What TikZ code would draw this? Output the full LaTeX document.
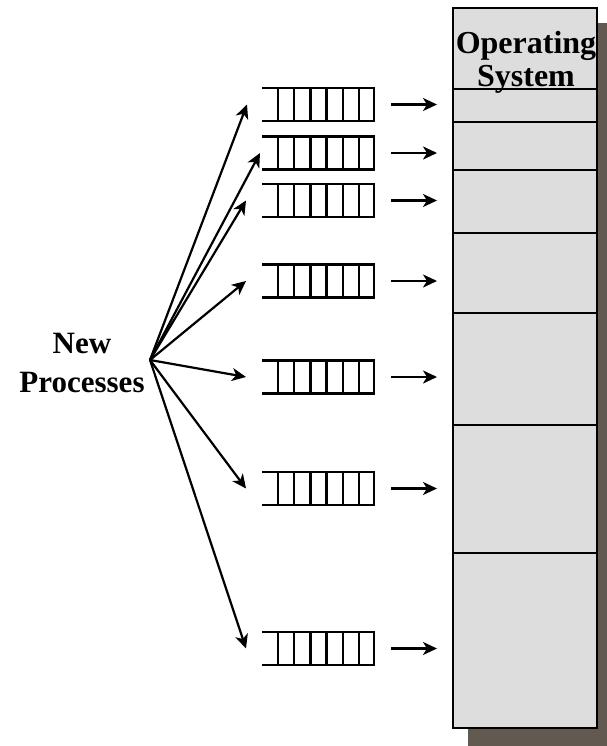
\documentclass[tikz,border=0pt]{standalone}
\usepackage{fontspec}
\setmainfont{Liberation Serif}
\usetikzlibrary{arrows.meta,calc}
\definecolor{osfill}{HTML}{DDDDDD}
\definecolor{shadowcol}{HTML}{625A50}
\begin{document}
\begin{tikzpicture}[x=1pt,y=-1pt,
  arr/.style={line width=2.2pt,-{Stealth[length=14pt,width=13pt,inset=4pt]}},
  qline/.style={line width=2.3pt},
  queue/.style={minimum width=112pt,minimum height=33pt,inner sep=0pt,outer sep=0pt},
  osbox/.style={draw=black,line width=2.5pt,fill=osfill,inner sep=0pt,outer sep=0pt},
  divline/.style={line width=2.3pt},
  bigtext/.style={font=\bfseries\fontsize{32}{33}\selectfont,align=center,inner sep=0pt},
  srctext/.style={font=\bfseries\fontsize{31}{39}\selectfont,align=center,inner sep=0pt}]
\useasboundingbox (0,0) rectangle (606,746);
\fill[shadowcol] (468,23) rectangle (620,760);
\node[osbox,minimum width=144pt,minimum height=720pt,anchor=north west] (os) at (453,8) {};
\foreach \y in {89,122,170,233,313,425,553}
  \draw[divline] (os.west |- 0,\y) -- (os.east |- 0,\y);
\node[bigtext,anchor=base] (ostitle) at (526,87) {Operating\\System};
\coordinate (src) at (150,360);
\node[srctext,anchor=base] (newproc) at (82,392) {New\\Processes};
\foreach \i/\y/\d in {1/104.5/-15,2/153/-2,3/200.5/-16,4/281/-16,5/377/-16,6/488.5/-16,7/648.5/-16} {
  \node[queue] (q\i) at (318,\y) {};
  \draw[qline] (q\i.north west) -- (q\i.north east) -- (q\i.south east) -- (q\i.south west);
  \foreach \k in {0,...,5}
    \draw[qline] ($(q\i.north west)+(16+16.2*\k,0)$) -- ($(q\i.south west)+(16+16.2*\k,0)$);
  \draw[arr] (src) -- ($(q\i.west)+(\d,0)$);
  \draw[arr] ($(q\i.east)+(17,0)$) -- ($(q\i.east)+(63,0)$);
}
\end{tikzpicture}
\end{document}
